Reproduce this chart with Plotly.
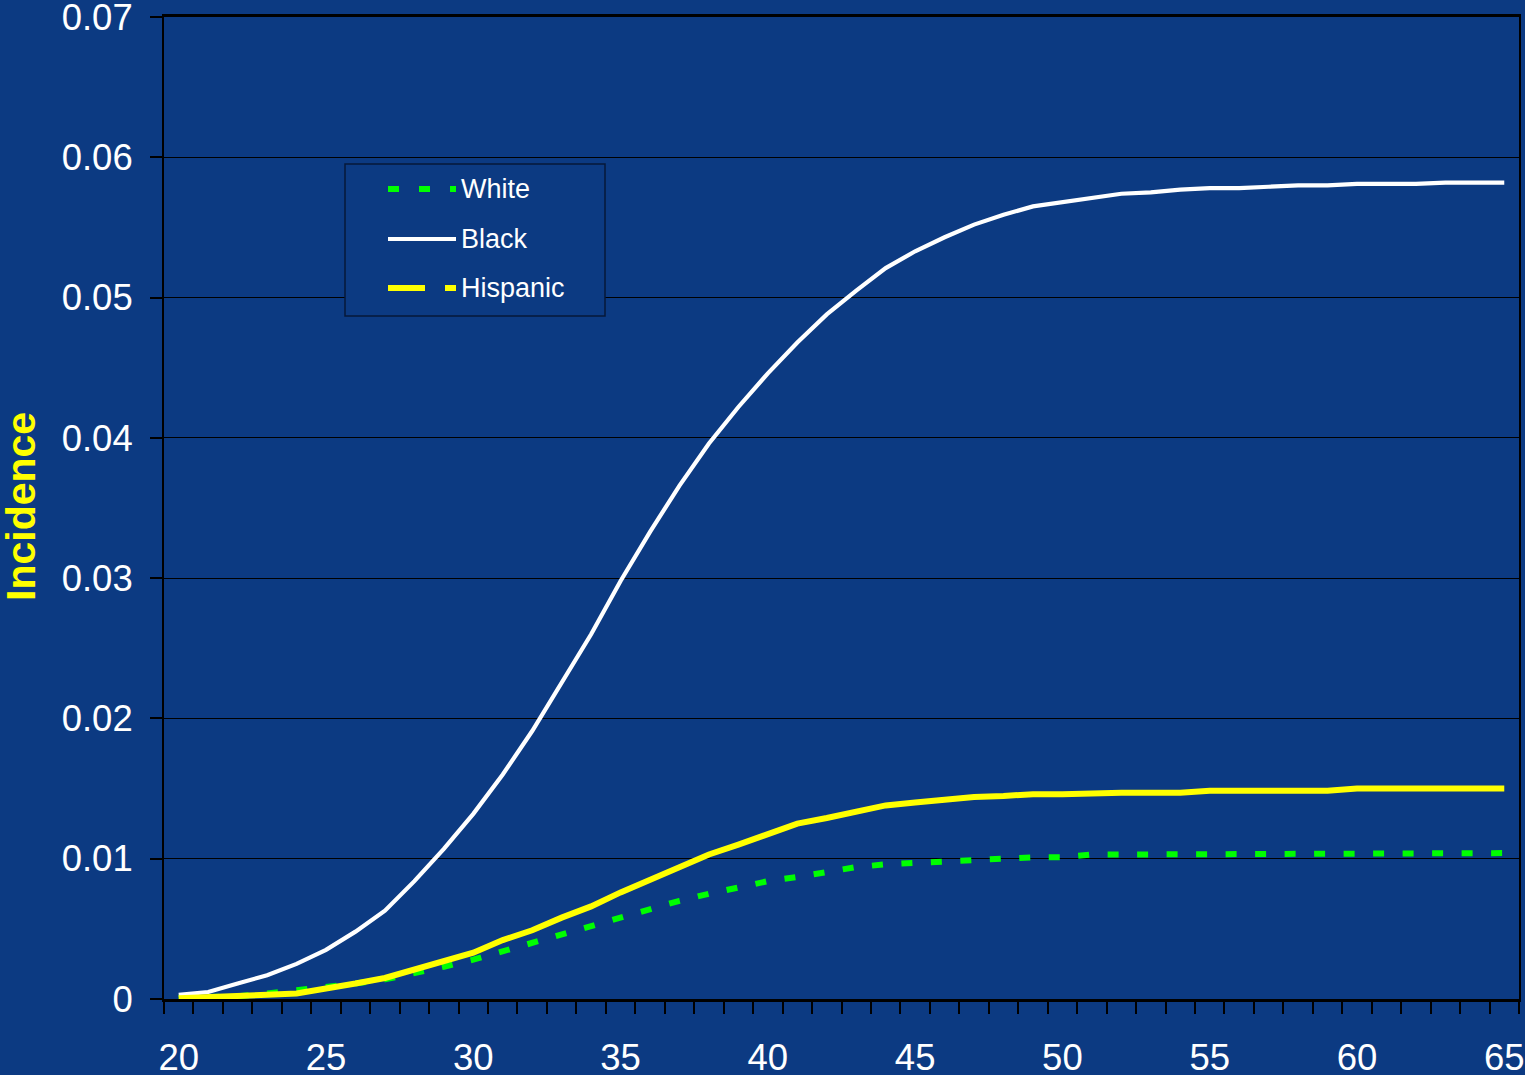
import plotly.graph_objects as go

# Cumulative incidence by age and group
ages = list(range(20, 66))

white = [0.0001, 0.0001, 0.0002, 0.0004, 0.0006, 0.0008, 0.0011, 0.0014, 0.0018, 0.0023,
         0.0028, 0.0034, 0.0040, 0.0046, 0.0052, 0.0058, 0.0065, 0.0070, 0.0075, 0.0080,
         0.0084, 0.0087, 0.0091, 0.0094, 0.0096, 0.0097, 0.0099, 0.0100, 0.0100, 0.0101,
         0.0101, 0.0103, 0.0103, 0.0103, 0.0103, 0.0103, 0.0104, 0.0104, 0.0104, 0.0104,
         0.0104, 0.0104, 0.0104, 0.0104, 0.0104, 0.0104]

black = [0.0003, 0.0005, 0.0011, 0.0017, 0.0025, 0.0035, 0.0048, 0.0063, 0.0084, 0.0107,
         0.0132, 0.0160, 0.0191, 0.0225, 0.0260, 0.0298, 0.0333, 0.0366, 0.0396, 0.0422,
         0.0446, 0.0468, 0.0488, 0.0505, 0.0521, 0.0533, 0.0543, 0.0552, 0.0559, 0.0565,
         0.0568, 0.0571, 0.0574, 0.0575, 0.0577, 0.0578, 0.0578, 0.0579, 0.0580, 0.0580,
         0.0581, 0.0581, 0.0581, 0.0582, 0.0582, 0.0582]

hispanic = [0.00005, 0.0001, 0.00016, 0.0003, 0.0004, 0.0007, 0.0011, 0.0015, 0.0021, 0.0027,
            0.0033, 0.0042, 0.0049, 0.0058, 0.0066, 0.0076, 0.0085, 0.0094, 0.0103, 0.0110,
            0.0117, 0.0125, 0.0129, 0.0134, 0.0138, 0.0140, 0.01425, 0.0144, 0.01447, 0.0146,
            0.0146, 0.0147, 0.0147, 0.0147, 0.0147, 0.01485, 0.01485, 0.01485, 0.01485, 0.01485,
            0.0150, 0.0150, 0.0150, 0.0150, 0.0150, 0.0150]

x_ticks = [20, 25, 30, 35, 40, 45, 50, 55, 60, 65]
y_ticks = [0, 0.01, 0.02, 0.03, 0.04, 0.05, 0.06, 0.07]
y_ticktext = ["0", "0.01", "0.02", "0.03", "0.04", "0.05", "0.06", "0.07"]

BG = "#0C3A82"
FONT = "Liberation Sans, Arial, sans-serif"

series = [
    dict(name="White", y=white, color="#00FF00", width=6, dash="11px,18.5px", key_dash="11px,20px"),
    dict(name="Black", y=black, color="#FFFFFF", width=4.2, dash="solid", key_dash="solid"),
    dict(name="Hispanic", y=hispanic, color="#FFFF00", width=6, dash="solid", key_dash="37px,20px,11px,20px"),
]

fig = go.Figure()
for s in series:
    fig.add_trace(go.Scatter(
        x=ages, y=s["y"], name=s["name"], mode="lines",
        line=dict(color=s["color"], width=s["width"], dash=s["dash"]),
        showlegend=False,
    ))

W, H = 1525, 1075
ML, MR, MT, MB = 164, 6, 17, 76
PW, PH = W - ML - MR, H - MT - MB


def px(xp):
    return (xp - ML) / PW


def py(yp):
    return (H - MB - yp) / PH


# Legend box with line keys
shapes = [dict(type="rect", xref="paper", yref="paper",
               x0=px(345), x1=px(605), y0=py(316), y1=py(164),
               line=dict(color="#06183A", width=1.5), fillcolor=BG, layer="above")]
annotations = []
for i, s in enumerate(series):
    yk = [189, 239, 288][i]
    shapes.append(dict(type="line", xref="paper", yref="paper",
                       x0=px(388), x1=px(456), y0=py(yk), y1=py(yk),
                       line=dict(color=s["color"], width=s["width"] if i != 1 else 4, dash=s["key_dash"]),
                       layer="above"))
    annotations.append(dict(xref="paper", yref="paper", x=px(459), y=py(yk),
                            xanchor="left", yanchor="middle", showarrow=False,
                            text=s["name"], font=dict(family=FONT, size=27, color="white")))

# Rotated y-axis title
annotations.append(dict(xref="paper", yref="paper", x=px(21), y=py(507),
                        xanchor="center", yanchor="middle", showarrow=False, textangle=-90,
                        text="<b>Incidence</b>", font=dict(family=FONT, size=41, color="#FFFF00")))

fig.update_layout(
    width=W, height=H,
    margin=dict(l=ML, r=MR, t=MT, b=MB, autoexpand=False),
    paper_bgcolor=BG, plot_bgcolor=BG,
    font=dict(family=FONT, color="white"),
    showlegend=False,
    shapes=shapes,
    annotations=annotations,
)

fig.update_xaxes(
    range=[19.5, 65.5], automargin=False,
    tickmode="array", tickvals=x_ticks, ticktext=[str(v) for v in x_ticks],
    ticks="", ticklabelstandoff=24, ticklabeloverflow="allow",
    tickfont=dict(family=FONT, size=36.5, color="white"),
    showgrid=False, zeroline=False,
    showline=True, linecolor="black", linewidth=2.5, mirror=True,
    minor=dict(ticks="outside", tickmode="linear", tick0=19.5, dtick=1,
               ticklen=12, tickwidth=2, tickcolor="black", showgrid=False),
)

fig.update_yaxes(
    range=[0, 0.07], automargin=False,
    tickmode="array", tickvals=y_ticks, ticktext=y_ticktext,
    ticks="outside", ticklen=12, tickwidth=1.5, tickcolor="black",
    ticklabelstandoff=10, ticklabeloverflow="allow",
    tickfont=dict(family=FONT, size=36.5, color="white"),
    showgrid=True, gridcolor="black", gridwidth=1.2,
    zeroline=False,
    showline=True, linecolor="black", linewidth=2, mirror=True,
)

fig.write_html("out.html")
